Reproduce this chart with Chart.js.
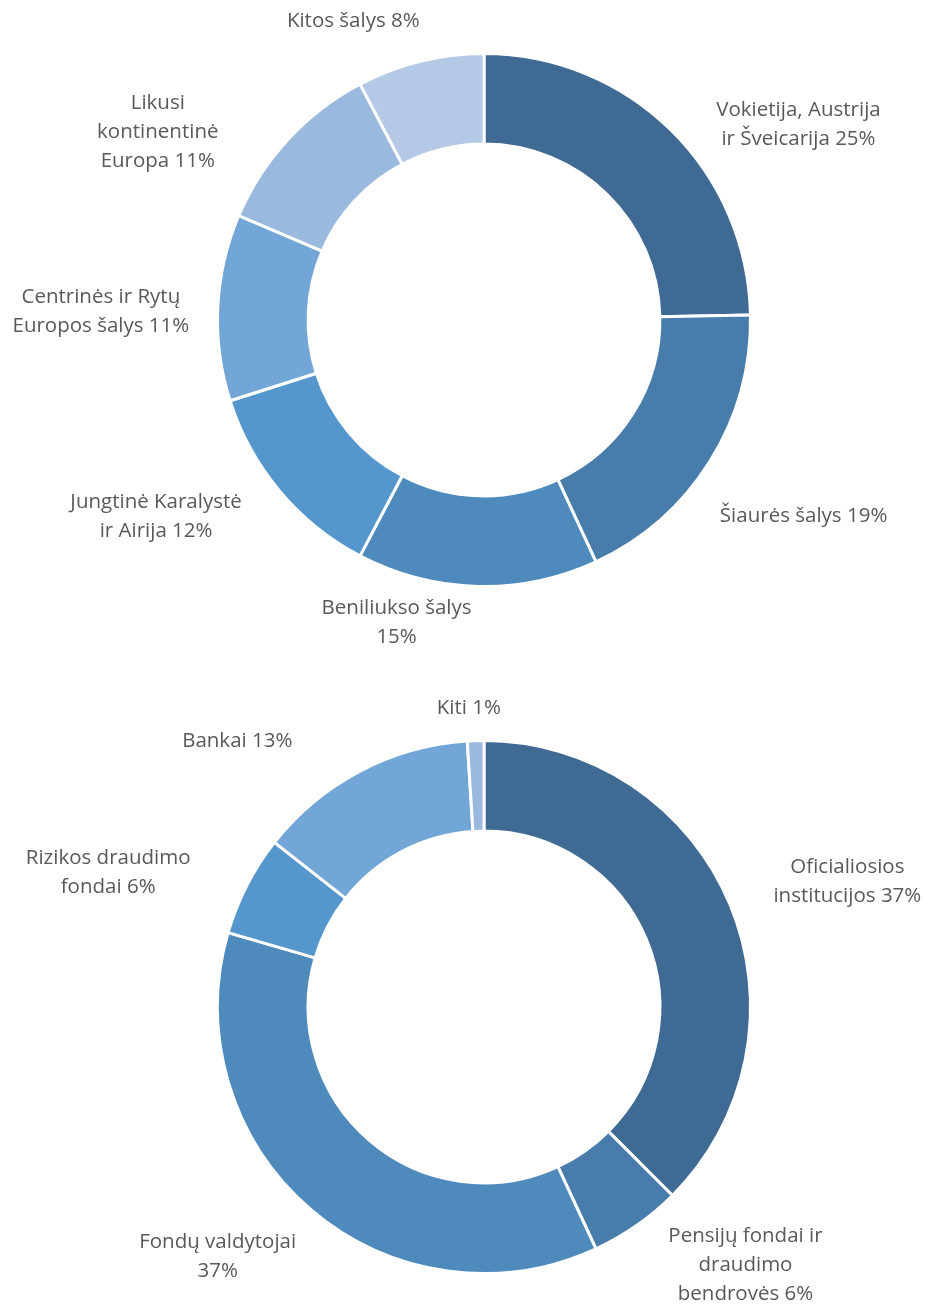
<!DOCTYPE html>
<html>
<head>
<meta charset="utf-8">
<script src="https://cdn.jsdelivr.net/npm/chart.js@4.4.1/dist/chart.umd.min.js"></script>
<style>
  html, body { margin: 0; padding: 0; background: #ffffff; }
  .wrap { position: relative; width: 929px; }
  #c1wrap { height: 660px; }
  #c2wrap { height: 645px; }
</style>
</head>
<body>
<div class="wrap" id="c1wrap"><canvas id="c1"></canvas></div>
<div class="wrap" id="c2wrap"><canvas id="c2"></canvas></div>
<script>
// ---- Data: top chart (regions) ----
const regionLabels = [
  ["Vokietija, Austrija", "ir Šveicarija 25%"],
  ["Šiaurės šalys 19%"],
  ["Beniliukso šalys", "15%"],
  ["Jungtinė Karalystė", "ir Airija 12%"],
  ["Centrinės ir Rytų", "Europos šalys 11%"],
  ["Likusi", "kontinentinė", "Europa 11%"],
  ["Kitos šalys 8%"]
];
const regionValues = [24.7, 18.4, 14.6, 12.4, 11.3, 10.9, 7.7];

// ---- Data: bottom chart (investor types) ----
const investorLabels = [
  ["Oficialiosios", "institucijos 37%"],
  ["Pensijų fondai ir", "draudimo", "bendrovės 6%"],
  ["Fondų valdytojai", "37%"],
  ["Rizikos draudimo", "fondai 6%"],
  ["Bankai 13%"],
  ["Kiti 1%"]
];
const investorValues = [37.5, 5.6, 36.4, 6.1, 13.4, 1.0];

// ---- Styling ----
const sliceColors = ["#3E6A94", "#477CAB", "#4F8ABD", "#5596CD", "#72A6D7", "#99B9DF", "#B3C9E5"];
// label placement: [angle in degrees clockwise from top, distance as multiple of outer radius]
const regionLabelPlacement = [[58.1,1.39],[121.6,1.408],[196.1,1.183],[239.1,1.434],[271.2,1.438],[299.9,1.412],[336.4,1.225]];
const investorLabelPlacement = [[71.0,1.442],[134.6,1.378],[226.8,1.371],[289.7,1.498],[317.1,1.36],[357.1,1.124]];

const FONT = '20.5px "Open Sans", "Noto Sans", sans-serif';
const LINE_H = 29;

const labelPlugin = {
  id: 'outLabels',
  afterDraw(chart, args, opts) {
    const ctx = chart.ctx;
    const meta = chart.getDatasetMeta(0);
    const lines = chart.data.labels;
    ctx.save();
    ctx.font = FONT;
    ctx.fillStyle = '#595959';
    ctx.textAlign = 'center';
    ctx.textBaseline = 'middle';
    meta.data.forEach((arc, i) => {
      const p = opts.placement[i];
      const a = p[0] * Math.PI / 180;
      const r = arc.outerRadius * p[1];
      const cx = arc.x + Math.sin(a) * r;
      const cy = arc.y - Math.cos(a) * r;
      const ls = lines[i];
      const y0 = cy - (ls.length - 1) * LINE_H / 2;
      ls.forEach((t, k) => ctx.fillText(t, cx, y0 + k * LINE_H));
    });
    ctx.restore();
  }
};

function makeChart(id, labels, values, placement, padding) {
  return new Chart(document.getElementById(id), {
    type: 'doughnut',
    data: {
      labels: labels,
      datasets: [{
        data: values,
        backgroundColor: sliceColors.slice(0, values.length),
        borderColor: '#ffffff',
        borderWidth: 3,
        hoverOffset: 0
      }]
    },
    options: {
      responsive: true,
      maintainAspectRatio: false,
      animation: false,
      cutout: '66%',
      layout: { padding: padding },
      plugins: {
        legend: { display: false },
        tooltip: { enabled: false },
        outLabels: { placement: placement }
      },
      events: []
    },
    plugins: [labelPlugin]
  });
}

makeChart('c1', regionLabels, regionValues, regionLabelPlacement, {left: 216, right: 177, top: 52, bottom: 72});
makeChart('c2', investorLabels, investorValues, investorLabelPlacement, {left: 216, right: 177, top: 79, bottom: 30});
</script>
</body>
</html>
